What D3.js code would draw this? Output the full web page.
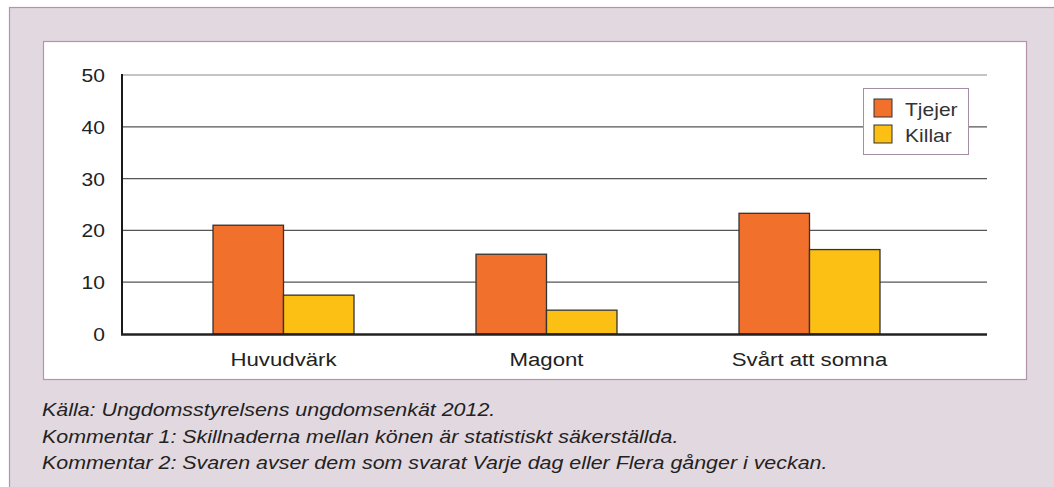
<!DOCTYPE html>
<html>
<head>
<meta charset="utf-8">
<script src="https://cdn.jsdelivr.net/npm/d3@7"></script>
<style>
  body { margin: 0; background: #fff; }
  text { font-family: "Liberation Sans", Arial, sans-serif; }
</style>
</head>
<body>
<div id="chart"></div>
<script>
var categories = ["Huvudvärk", "Magont", "Svårt att somna"];
var seriesNames = ["Tjejer", "Killar"];
var tjejer = [21.0, 15.4, 23.3];
var killar = [7.5, 4.6, 16.3];
var yTicks = [0, 10, 20, 30, 40, 50];
var notes = [
  "Källa: Ungdomsstyrelsens ungdomsenkät 2012.",
  "Kommentar 1: Skillnaderna mellan könen är statistiskt säkerställda.",
  "Kommentar 2: Svaren avser dem som svarat Varje dag eller Flera gånger i veckan."
];
var colors = ["#f1702c", "#fcbf13"];

var width = 1054, height = 487;
var stretch = 1.17; // text in the original is a bit wider than Arial

function place(x, y, s) {
  return "translate(" + x + "," + y + ") scale(" + (s || stretch) + ",1)";
}

var svg = d3.select("#chart").append("svg")
  .attr("width", width)
  .attr("height", height);

// outer panel
svg.append("rect")
  .attr("x", 9.5).attr("y", 7.5)
  .attr("width", width + 10).attr("height", height + 10)
  .attr("fill", "#e2d8e0")
  .attr("stroke", "#b493b1")
  .attr("stroke-width", 1.2);

// inner white box
svg.append("rect")
  .attr("x", 43.5).attr("y", 41.5)
  .attr("width", 983).attr("height", 338)
  .attr("fill", "#fff")
  .attr("stroke", "#b493b1")
  .attr("stroke-width", 1.2);

var y = d3.scaleLinear().domain([0, 50]).range([334, 75]);
var x0 = d3.scaleBand().domain(categories).range([152, 941])
  .paddingInner(0.464).paddingOuter(0.232);
var x1 = d3.scaleBand().domain(seriesNames).range([0, x0.bandwidth()]);

// grid lines
svg.append("g").selectAll("line")
  .data(yTicks.filter(function(d) { return d > 0; }))
  .enter().append("line")
  .attr("x1", 122).attr("x2", 987)
  .attr("y1", function(d) { return y(d); })
  .attr("y2", function(d) { return y(d); })
  .attr("stroke", function(d) { return d == 50 ? "#8a8a8a" : "#555"; })
  .attr("stroke-width", 1.2);

// y labels
svg.append("g").selectAll("text")
  .data(yTicks)
  .enter().append("text")
  .attr("transform", function(d) { return place(105, y(d) + 7); })
  .attr("text-anchor", "end")
  .attr("font-size", 18)
  .attr("fill", "#222")
  .text(function(d) { return d; });

// bars
var rows = categories.map(function(c, i) {
  return { cat: c, vals: [tjejer[i], killar[i]] };
});
var groups = svg.append("g").selectAll("g")
  .data(rows)
  .enter().append("g")
  .attr("transform", function(d) { return "translate(" + x0(d.cat) + ",0)"; });

groups.selectAll("rect")
  .data(function(d) { return d.vals.map(function(v, j) { return { s: seriesNames[j], v: v, j: j }; }); })
  .enter().append("rect")
  .attr("x", function(d) { return x1(d.s); })
  .attr("y", function(d) { return y(d.v); })
  .attr("width", x1.bandwidth())
  .attr("height", function(d) { return y(0) - y(d.v); })
  .attr("fill", function(d) { return colors[d.j]; })
  .attr("stroke", "#333")
  .attr("stroke-width", 1.3);

// axes lines
svg.append("line")
  .attr("x1", 122).attr("x2", 122).attr("y1", 74).attr("y2", 335)
  .attr("stroke", "#1a1a1a").attr("stroke-width", 2);
svg.append("line")
  .attr("x1", 121).attr("x2", 987).attr("y1", 334.5).attr("y2", 334.5)
  .attr("stroke", "#222").attr("stroke-width", 2.5);

// x labels
svg.append("g").selectAll("text")
  .data(categories)
  .enter().append("text")
  .attr("transform", function(d) { return place(x0(d) + x0.bandwidth() / 2, 366); })
  .attr("text-anchor", "middle")
  .attr("font-size", 19)
  .attr("fill", "#222")
  .text(function(d) { return d; });

// legend
var legend = svg.append("g");
legend.append("rect")
  .attr("x", 863.5).attr("y", 88.5)
  .attr("width", 105).attr("height", 66)
  .attr("fill", "#fff")
  .attr("stroke", "#a58fa5")
  .attr("stroke-width", 1);
var li = legend.selectAll(".li")
  .data(seriesNames)
  .enter().append("g")
  .attr("class", "li")
  .attr("transform", function(d, i) { return "translate(874," + (99 + i * 26) + ")"; });
li.append("rect")
  .attr("width", 18).attr("height", 18)
  .attr("fill", function(d, i) { return colors[i]; })
  .attr("stroke", "#333")
  .attr("stroke-width", 1);
li.append("text")
  .attr("transform", place(31, 17))
  .attr("font-size", 18)
  .attr("fill", "#333")
  .text(function(d) { return d; });

// notes
svg.append("g").selectAll("text")
  .data(notes)
  .enter().append("text")
  .attr("transform", function(d, i) { return place(42, 416 + i * 26.5, 1.19); })
  .attr("font-size", 18)
  .attr("font-style", "italic")
  .attr("fill", "#222")
  .text(function(d) { return d; });
</script>
</body>
</html>
